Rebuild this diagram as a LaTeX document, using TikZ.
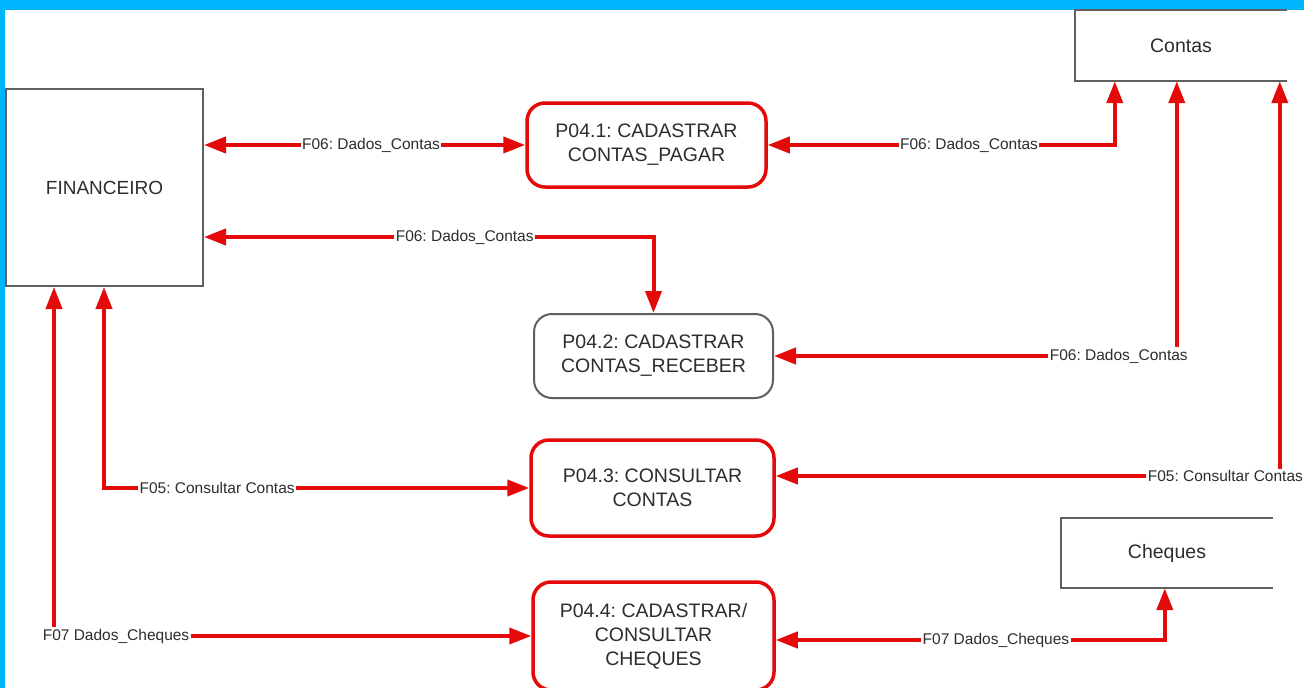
\documentclass[tikz,border=0pt]{standalone}
\usepackage{fontspec}
\setmainfont{Liberation Sans}
\usetikzlibrary{arrows.meta}
\definecolor{bgcyan}{RGB}{0,183,255}
\definecolor{flowred}{RGB}{228,10,10}
\definecolor{boxgray}{RGB}{95,95,95}
\definecolor{txtgray}{RGB}{45,45,45}
\frenchspacing
\begin{document}
\begin{tikzpicture}[x=1pt,y=-1pt,
  every node/.style={text=txtgray, inner sep=0pt},
  ent/.style={draw=boxgray, line width=2pt, minimum width=197pt, minimum height=197pt, font=\fontsize{19}{23}\selectfont},
  proc/.style={draw=flowred, line width=3.5pt, rounded corners=18pt, align=center, font=\fontsize{19.5}{24}\selectfont},
  store/.style={minimum width=212pt, minimum height=71pt, font=\fontsize{19.5}{24}\selectfont},
  flow/.style={draw=flowred, line width=4pt, {Triangle[length=22pt,width=16pt]}-{Triangle[length=22pt,width=16pt]}},
  lbl/.style={fill=white, inner sep=1.5pt, font=\fontsize{15.5}{18}\selectfont}]
% background
\fill[bgcyan] (0,0) rectangle (1304,688);
\fill[white] (5,10) rectangle (1304,688);
\useasboundingbox (0,0) rectangle (1304,688);
% external entity
\node[ent] (fin) at (104.5,187.5) {FINANCEIRO};
% processes
\node[proc, minimum width=239pt, minimum height=84pt] (p1) at (646.5,145) {P04.1: CADASTRAR\\CONTAS\_PAGAR};
\node[proc, draw=boxgray, line width=2pt, minimum width=239pt, minimum height=84pt] (p2) at (653.5,356) {P04.2: CADASTRAR\\CONTAS\_RECEBER};
\node[proc, minimum width=243pt, minimum height=96pt] (p3) at (652.5,488) {P04.3: CONSULTAR\\CONTAS};
\node[proc, minimum width=241pt, minimum height=108pt] (p4) at (653.5,636) {P04.4: CADASTRAR/\\CONSULTAR\\CHEQUES};
% data stores
\node[store] (contas) at (1181,45.5) {Contas};
\draw[boxgray, line width=2pt] (contas.north east) -- (contas.north west) -- (contas.south west) -- (contas.south east);
\node[store, minimum height=70pt] (cheques) at (1167,553) {Cheques};
\draw[boxgray, line width=2pt] (cheques.north east) -- (cheques.north west) -- (cheques.south west) -- (cheques.south east);
% flows
\draw[flow] (fin.east |- p1.west) -- node[lbl, pos=0.52] {F06: Dados\_Contas} (p1.west);
\draw[flow] (p1.east) -| node[lbl, pos=0.29] {F06: Dados\_Contas} ([xshift=40pt]contas.south west);
\draw[flow] ([yshift=-49.5pt]fin.east) -| node[lbl, pos=0.29] {F06: Dados\_Contas} (p2.north);
\draw[flow] (p2.east) -| node[lbl, pos=0.428] {F06: Dados\_Contas} ([xshift=102pt]contas.south west);
\draw[flow] (p3.west) -| node[lbl, pos=0.367] {F05: Consultar Contas} ([xshift=99pt]fin.south west);
\draw[flow] ([yshift=12pt]p3.east) -| node[lbl, pos=0.446] {F05: Consultar Contas} ([xshift=205pt]contas.south west);
\draw[flow] (p4.west) -| node[lbl, pos=0.435] {F07 Dados\_Cheques} ([xshift=49pt]fin.south west);
\draw[flow] ([yshift=-4pt]p4.east) -| node[lbl, pos=0.283] {F07 Dados\_Cheques} ([xshift=104pt]cheques.south west);
\end{tikzpicture}
\end{document}
